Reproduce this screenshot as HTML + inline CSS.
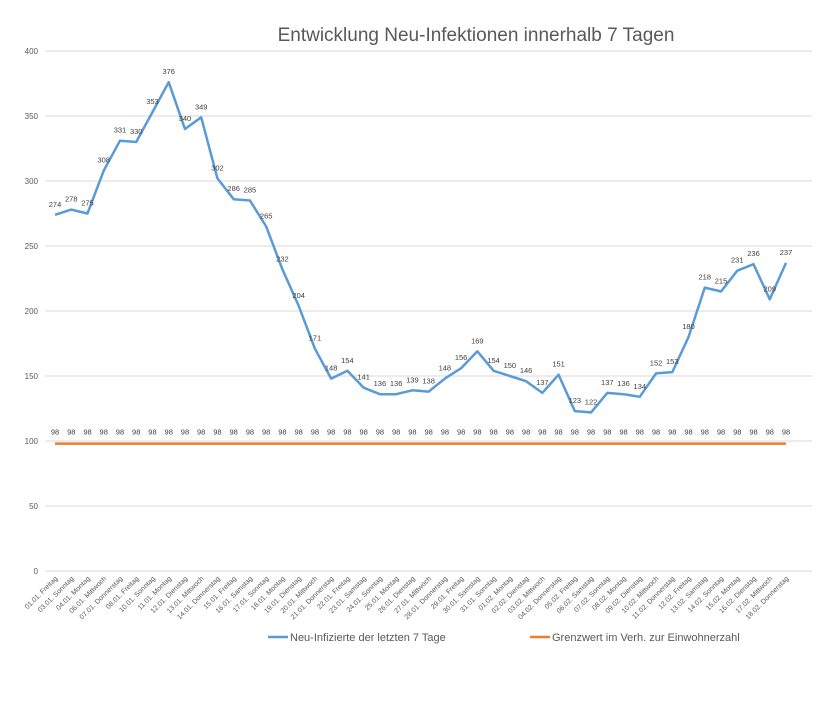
<!DOCTYPE html>
<html><head><meta charset="utf-8">
<style>
body{margin:0;background:#fff;font-family:"Liberation Sans",sans-serif;}
svg text{font-family:"Liberation Sans",sans-serif;}
</style></head>
<body>
<svg id="chart" width="826" height="705" xmlns="http://www.w3.org/2000/svg">
<text x="476" y="41" text-anchor="middle" font-size="19" fill="#595959">Entwicklung  Neu-Infektionen innerhalb 7 Tagen</text>
<g id="grid"></g><g id="ylabels"></g><g id="xlabels"></g><g id="series"></g>
<g>
<line x1="268" y1="637" x2="288" y2="637" stroke="#5B9BD5" stroke-width="2.5"/>
<text x="290" y="641" font-size="11" fill="#595959">Neu-Infizierte der letzten 7 Tage</text>
<line x1="530" y1="637" x2="550" y2="637" stroke="#ED7D31" stroke-width="2.5"/>
<text x="552" y="641" font-size="11" fill="#595959">Grenzwert im Verh. zur Einwohnerzahl</text>
</g>
</svg>
<script>
const categories=["01.01. Freitag","03.01. Sonntag","04.01. Montag","06.01. Mittwoch","07.01. Donnerstag","08.01. Freitag","10.01. Sonntag","11.01. Montag","12.01. Dienstag","13.01. Mittwoch","14.01. Donnerstag","15.01. Freitag","16.01. Samstag","17.01. Sonntag","18.01. Montag","19.01. Dienstag","20.01. Mittwoch","21.01. Donnerstag","22.01. Freitag","23.01. Samstag","24.01. Sonntag","25.01. Montag","26.01. Dienstag","27.01. Mittwoch","28.01. Donnerstag","29.01. Freitag","30.01. Samstag","31.01. Sonntag","01.02. Montag","02.02. Dienstag","03.02. Mittwoch","04.02. Donnerstag","05.02. Freitag","06.02. Samstag","07.02. Sonntag","08.02. Montag","09.02. Dienstag","10.02. Mittwoch","11.02. Donnerstag","12.02. Freitag","13.02. Samstag","14.02. Sonntag","15.02. Montag","16.02. Dienstag","17.02. Mittwoch","18.02. Donnerstag"];
const infections=[274,278,275,308,331,330,353,376,340,349,302,286,285,265,232,204,171,148,154,141,136,136,139,138,148,156,169,154,150,146,137,151,123,122,137,136,134,152,153,180,218,215,231,236,209,237];
const threshold=categories.map(()=>98);
const yTicks=[0,50,100,150,200,250,300,350,400];
const NS="http://www.w3.org/2000/svg";
const X0=55,X1=786,Y0=571,Y400=51;
const xs=i=>X0+(X1-X0)*i/(categories.length-1);
const ys=v=>Y0-(Y0-Y400)*v/400;
function mk(tag,attrs,parent){const e=document.createElementNS(NS,tag);for(const k in attrs)e.setAttribute(k,attrs[k]);parent.appendChild(e);return e;}
const grid=document.getElementById('grid'),yl=document.getElementById('ylabels'),xl=document.getElementById('xlabels'),se=document.getElementById('series');
yTicks.forEach(t=>{
 const l=mk('line',{x1:45,x2:812,y1:ys(t),y2:ys(t),stroke:'#d9d9d9','stroke-width':1},grid);
 
 
 const tx=mk('text',{x:38,y:ys(t)+3,'text-anchor':'end','font-size':8,fill:'#595959'},yl);
 tx.textContent=t;
 
 
});
categories.forEach((c,i)=>{
 const x=xs(i)+3,y=579;
 const tx=mk('text',{x:x,y:y,'text-anchor':'end','font-size':7,fill:'#595959',transform:`rotate(-45 ${x} ${y})`},xl);
 tx.textContent=c;
 
 
});
const p1=mk('polyline',{points:infections.map((v,i)=>xs(i)+','+ys(v)).join(' '),fill:'none',stroke:'#5B9BD5','stroke-width':2.5,'stroke-linejoin':'round'},se);


const p2=mk('polyline',{points:threshold.map((v,i)=>xs(i)+','+ys(v)).join(' '),fill:'none',stroke:'#ED7D31','stroke-width':2.5},se);


infections.forEach((v,i)=>{
 const t=mk('text',{x:xs(i),y:ys(v)-8,'text-anchor':'middle','font-size':7.5,fill:'#404040'},se);
 t.textContent=v;
 
 
});
threshold.forEach((v,i)=>{
 const t=mk('text',{x:xs(i),y:ys(v)-9,'text-anchor':'middle','font-size':7.5,fill:'#404040'},se);
 t.textContent=v;
 
 
});
</script>
</body></html>
